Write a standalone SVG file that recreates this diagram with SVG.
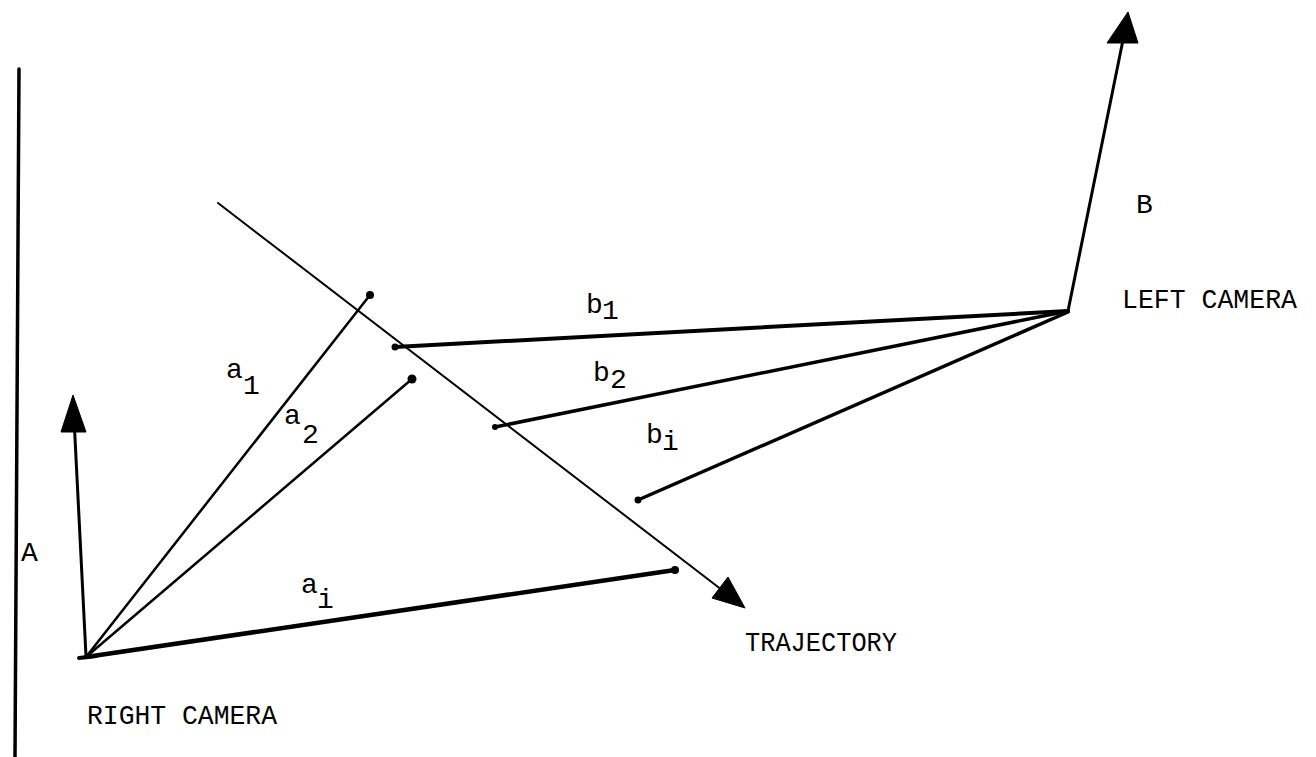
<svg xmlns="http://www.w3.org/2000/svg" width="1316" height="757" viewBox="0 0 1316 757">
<style>
.ln{stroke:#000;fill:none;stroke-linecap:round}
.dot{fill:#000}
.head{fill:#000;stroke:#000;stroke-width:1;stroke-linejoin:round}
text{font-family:"Liberation Mono","DejaVu Sans Mono",monospace;font-size:28px;fill:#000}
</style>
<rect width="1316" height="757" fill="#fff"/>
<g id="border">
<line class="ln" x1="19" y1="69" x2="15" y2="757" stroke-width="3.5"/>
</g>
<g id="right-camera">
<line class="ln" x1="79" y1="658" x2="96" y2="656" stroke-width="4"/>
<line class="ln" x1="86" y1="656" x2="74.5" y2="428" stroke-width="3"/>
<polygon class="head" points="73,395 61,432 86,432"/>
<text x="21" y="561">A</text>
<text x="87" y="724" textLength="190" lengthAdjust="spacingAndGlyphs">RIGHT CAMERA</text>
</g>
<g id="left-camera">
<line class="ln" x1="1068" y1="311" x2="1123" y2="40" stroke-width="3"/>
<polygon class="head" points="1128,12 1107,43 1138,43"/>
<text x="1136" y="213">B</text>
<text x="1122" y="308" textLength="175" lengthAdjust="spacingAndGlyphs">LEFT CAMERA</text>
</g>
<g id="trajectory">
<line class="ln" x1="218" y1="203" x2="722" y2="590" stroke-width="2"/>
<polygon class="head" points="745,608 712,598 728,577"/>
<text x="745" y="651" textLength="152" lengthAdjust="spacingAndGlyphs">TRAJECTORY</text>
</g>
<g id="connectors">
<line class="ln" x1="86" y1="657" x2="370" y2="295" stroke-width="2.5"/>
<circle class="dot" cx="370" cy="295" r="4"/>
<line class="ln" x1="86" y1="657" x2="412" y2="379" stroke-width="2.5"/>
<circle class="dot" cx="412" cy="379" r="4.5"/>
<line class="ln" x1="86" y1="657" x2="675" y2="570" stroke-width="4.5"/>
<circle class="dot" cx="675" cy="570" r="4"/>
<line class="ln" x1="1068" y1="311" x2="395" y2="347" stroke-width="4"/>
<circle class="dot" cx="395" cy="347" r="3.5"/>
<line class="ln" x1="1068" y1="311" x2="495" y2="427" stroke-width="3.5"/>
<circle class="dot" cx="495" cy="427" r="3"/>
<line class="ln" x1="1068" y1="312" x2="638" y2="500" stroke-width="3.5"/>
<circle class="dot" cx="638" cy="500" r="3.5"/>
</g>
<g id="labels">
<text x="226" y="378">a</text><text x="243" y="394">1</text>
<text x="284" y="424">a</text><text x="302" y="443">2</text>
<text x="301" y="593">a</text><text x="317" y="608">i</text>
<text x="586" y="313">b</text><text x="602" y="319">1</text>
<text x="593" y="381">b</text><text x="610" y="388">2</text>
<text x="646" y="443">b</text><text x="662" y="450">i</text>
</g>
</svg>
